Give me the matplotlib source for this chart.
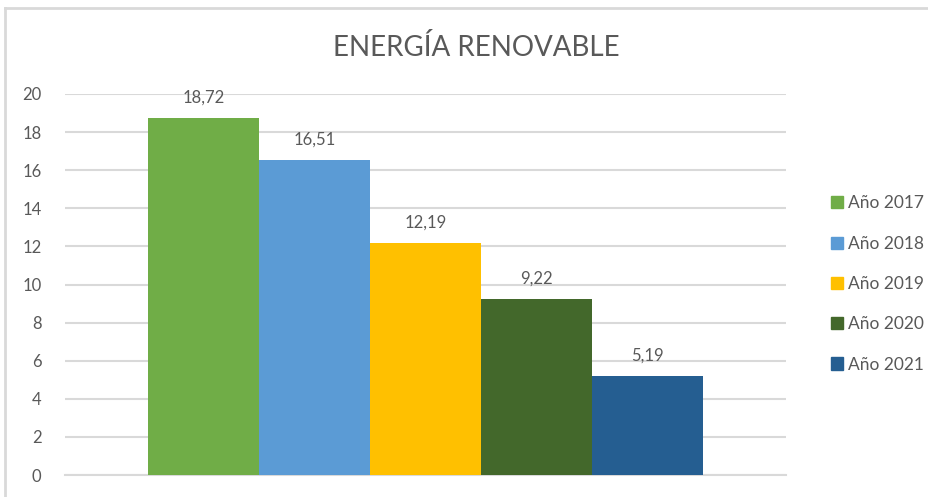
import matplotlib
matplotlib.use("Agg")
import matplotlib.pyplot as plt
from matplotlib.lines import Line2D

plt.rcParams['font.family'] = ['Lato', 'DejaVu Sans']

series = ["Año 2017", "Año 2018", "Año 2019", "Año 2020", "Año 2021"]
values = [18.72, 16.51, 12.19, 9.22, 5.19]
labels = ["18,72", "16,51", "12,19", "9,22", "5,19"]
colors = ["#70AD47", "#5B9BD5", "#FFC000", "#43682B", "#255E91"]
yticks = [0, 2, 4, 6, 8, 10, 12, 14, 16, 18, 20]

W, H = 929, 497
fig = plt.figure(figsize=(W / 100, H / 100), dpi=100)
ax = fig.add_axes([65 / W, 1 - 475 / H, (786 - 65) / W, (475 - 94) / H])

bw = 0.154
n = len(series)
txt = "#595959"
for i, (s, v, lab, c) in enumerate(zip(series, values, labels, colors)):
    x = (i - (n - 1) / 2) * bw
    ax.bar(x, v, width=bw, color=c, label=s, zorder=3)
    ax.annotate(lab, (x, v), xytext=(0, 9), textcoords="offset points",
                ha="center", va="bottom", fontsize=12, color=txt, zorder=4)

ax.set_xlim(-0.5, 0.5)
ax.set_ylim(0, 20)
ax.set_yticks(yticks)
ax.set_yticklabels([str(t) for t in yticks])
ax.set_xticks([])
ax.grid(axis="y", color="#D9D9D9", linewidth=1.5, zorder=0)
for sp in ["top", "right", "left"]:
    ax.spines[sp].set_visible(False)
ax.spines["bottom"].set_color("#D9D9D9")
ax.spines["bottom"].set_linewidth(1.5)
ax.tick_params(axis="y", length=0, pad=17, labelsize=12, labelcolor=txt)

fig.text(476 / W, 1 - 47 / H, "ENERGÍA RENOVABLE", ha="center", va="center",
         fontsize=20, color=txt)

handles = [plt.Rectangle((0, 0), 1, 1, color=c) for c in colors]
leg = fig.legend(handles, series, loc="center left", bbox_to_anchor=(815 / W, 1 - 284 / H),
                 frameon=False, fontsize=12.5, labelcolor=txt, handlelength=0.7,
                 handleheight=0.7, handletextpad=0.3, labelspacing=1.4)

# chart frame (partially visible)
fig.add_artist(Line2D([5 / W, 1], [1 - 8 / H, 1 - 8 / H], color="#D9D9D9", linewidth=2,
                      transform=fig.transFigure))
fig.add_artist(Line2D([5 / W, 5 / W], [0, 1 - 8 / H], color="#D9D9D9", linewidth=2,
                      transform=fig.transFigure))

fig.savefig("out.png", dpi=100)
